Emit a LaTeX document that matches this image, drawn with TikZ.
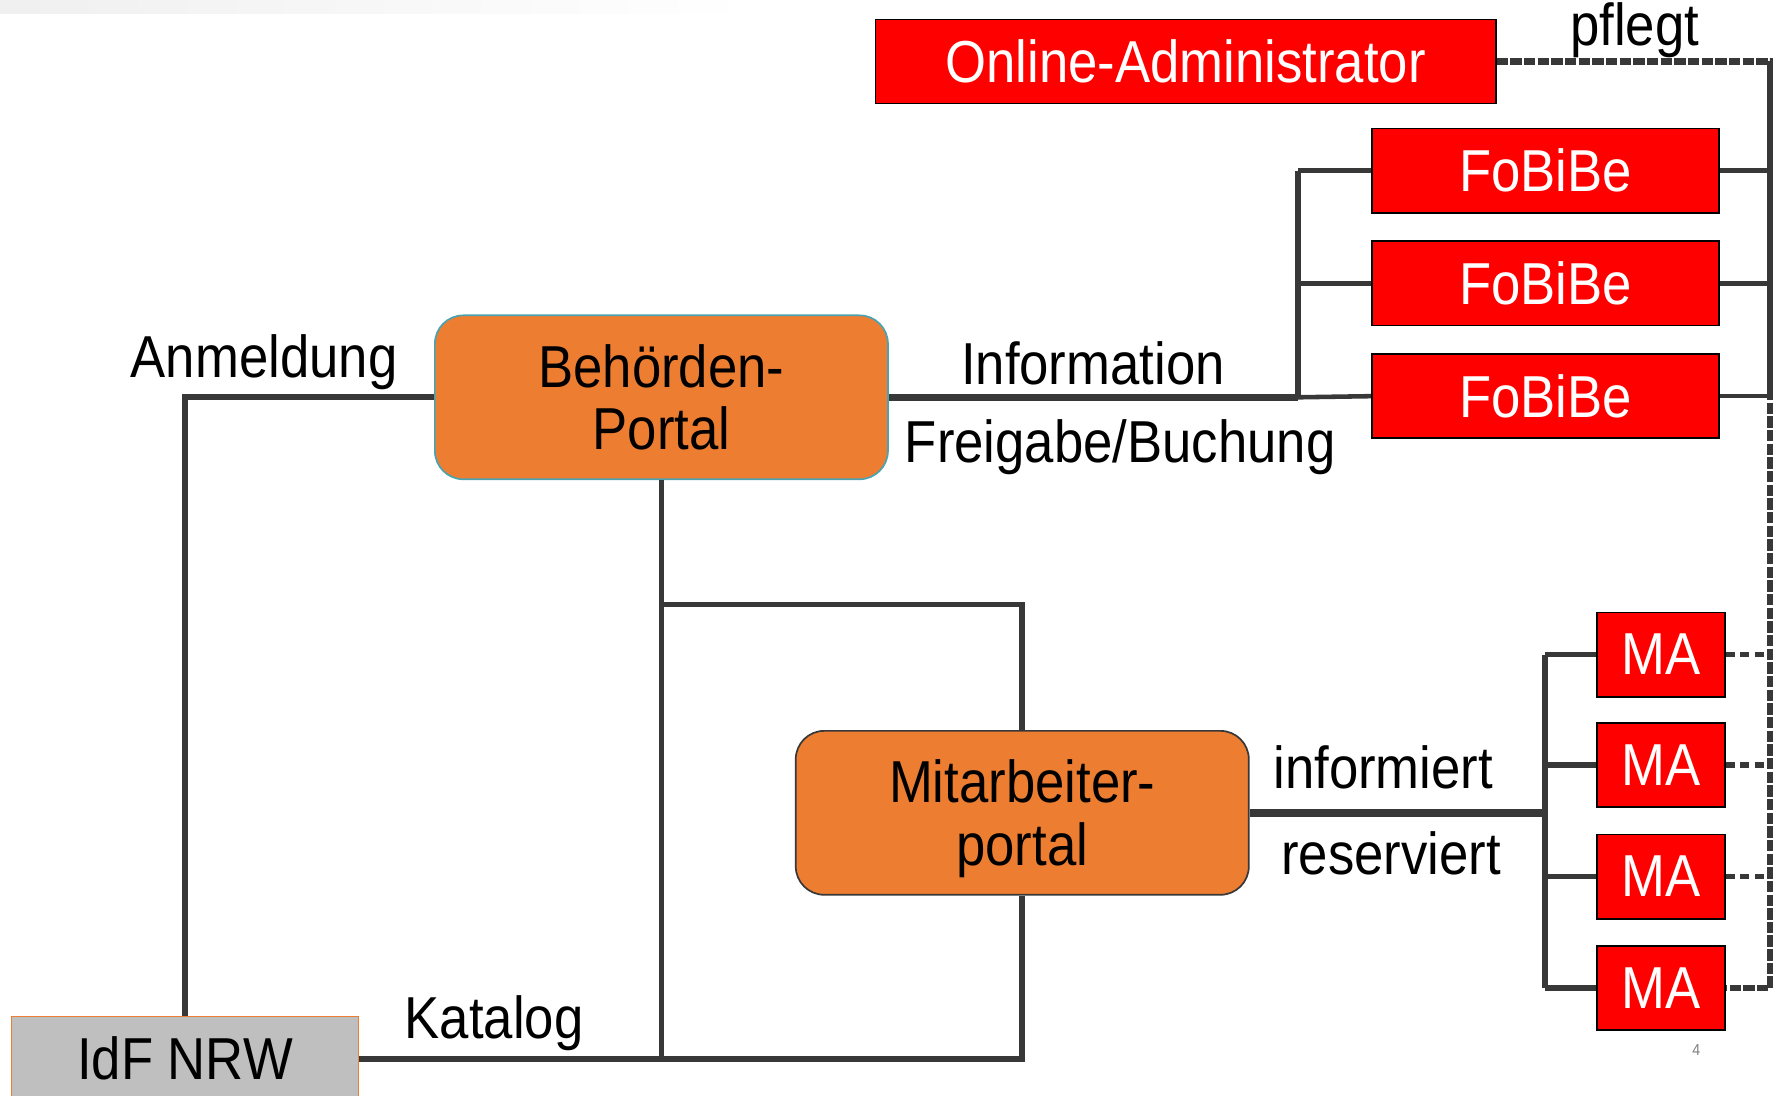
\documentclass[tikz,border=0pt]{standalone}
\usepackage{fontspec}
\setmainfont{Liberation Sans}[FakeStretch=0.89]
\definecolor{boxred}{HTML}{FF0000}
\definecolor{portalorange}{HTML}{ED7D31}
\definecolor{linegray}{HTML}{383838}
\definecolor{tealborder}{HTML}{4BA3B0}
\definecolor{idfgray}{HTML}{BFBFBF}
\newcommand\diafont{\fontsize{52}{55}\selectfont}
\begin{document}
\begin{tikzpicture}[x=1pt,y=-1pt,
  redbox/.style={draw=black, line width=1.5pt, fill=boxred, text=white, inner sep=0pt, font=\diafont},
  portal/.style={rounded corners=25pt, line width=1.5pt, fill=portalorange, inner sep=0pt, font=\diafont, align=center, minimum width=398pt, minimum height=144pt},
  lbl/.style={anchor=base, inner sep=0pt, font=\diafont},
  thinline/.style={draw=linegray, line width=4pt},
  midline/.style={draw=linegray, line width=5pt},
  thickline/.style={draw=linegray, line width=6.5pt},
  dashline/.style={draw=linegray, line width=5.5pt, dash pattern=on 10pt off 2pt},
  madash/.style={draw=linegray, line width=4.5pt, dash pattern=on 8pt off 5pt}
]
\clip (0,0) rectangle (1568,962);
\fill[left color=gray!12, right color=white] (0,0) rectangle (660,12);

% boxes
\node[redbox, minimum width=545pt, minimum height=74pt] (admin) at (1041.5,54) {Online-Administrator};
\node[redbox, minimum width=305pt, minimum height=74pt] (fb1) at (1357.5,150) {FoBiBe};
\node[redbox, minimum width=305pt, minimum height=74pt] (fb2) at (1357.5,249) {FoBiBe};
\node[redbox, minimum width=305pt, minimum height=74pt] (fb3) at (1357.5,348) {FoBiBe};
\node[redbox, minimum width=112pt, minimum height=74pt] (ma1) at (1459,575) {MA};
\node[redbox, minimum width=112pt, minimum height=74pt] (ma2) at (1459,672) {MA};
\node[redbox, minimum width=112pt, minimum height=74pt] (ma3) at (1459,770) {MA};
\node[redbox, minimum width=112pt, minimum height=74pt] (ma4) at (1459,868) {MA};
\node[portal, draw=tealborder] (beh) at (581,349) {Behörden-\\Portal};
\node[portal, draw=linegray, text depth=0pt] (mit) at (898,714) {Mitarbeiter-\\portal};
\node[draw=portalorange, line width=1.5pt, fill=idfgray, inner sep=0pt, font=\diafont, minimum width=305pt, minimum height=74pt] (idf) at (162.5,930) {IdF NRW};

% coordinates
\coordinate (fbtop) at (1140,150);
\coordinate (fbbot) at (1140,349);
\coordinate (rtop) at (1555,54);
\coordinate (rbot) at (1555,868);
\coordinate (mbus) at (1357,714);
\coordinate (split) at (581,531);
\coordinate (splitR) at (898,531);

% Behoerden -> FoBiBe
\draw[thickline] (beh.east) -- (fbbot);
\draw[midline] (fbtop) -- (fbbot);
\draw[thinline] (fbtop) -- (fb1.west);
\draw[thinline] (fb2.west -| fbtop) -- (fb2.west);
\draw[thinline] (fbbot) -- (fb3.west);

% right side
\draw[dashline] (admin.east) -- (rtop) -- (rbot) -- (ma4.east);
\draw[midline] (rtop) -- (fb3.east -| rtop);
\draw[thinline] (fb1.east) -- (fb1.east -| rtop);
\draw[thinline] (fb2.east) -- (fb2.east -| rtop);
\draw[thinline] (fb3.east) -- (fb3.east -| rtop);
\draw[madash] (ma1.east) -- (ma1.east -| rtop);
\draw[madash] (ma2.east) -- (ma2.east -| rtop);
\draw[madash] (ma3.east) -- (ma3.east -| rtop);

% Mitarbeiter -> MA
\draw[thickline] (mit.east) -- (mbus);
\draw[midline] (ma1.west -| mbus) -- (ma4.west -| mbus);
\draw[midline] (ma1.west -| mbus) -- (ma1.west);
\draw[midline] (ma2.west -| mbus) -- (ma2.west);
\draw[midline] (ma3.west -| mbus) -- (ma3.west);
\draw[midline] (ma4.west -| mbus) -- (ma4.west);

% left and bottom
\draw[midline] (beh.west) -| (idf.north);
\draw[midline] (beh.south) -- (beh.south |- idf.east);
\draw[midline] (idf.east) -- (mit.south |- idf.east) -- (mit.south);
\draw[midline] (split) -- (splitR) -- (mit.north);

% labels
\node[lbl] (l1) at (232,332) {Anmeldung};
\node[lbl] (l2) at (960,338) {Information};
\node[lbl] (l3) at (984,406) {Freigabe/Buchung};
\node[lbl] (l4) at (1436,40) {pflegt};
\node[lbl] (l5) at (1215,693) {informiert};
\node[lbl] (l6) at (1222,768) {reserviert};
\node[lbl] (l7) at (434,912) {Katalog};
\node[anchor=base, inner sep=0pt, font=\fontsize{14}{16}\selectfont, text=gray] (pg) at (1490,927) {4};
\end{tikzpicture}
\end{document}
